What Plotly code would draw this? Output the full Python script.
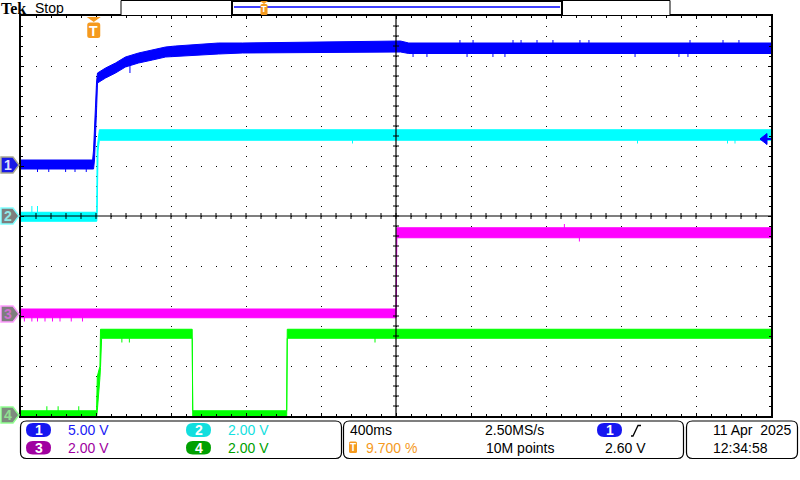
import plotly.graph_objects as go
import numpy as np

# ---------------- scope settings ----------------
TIME_PER_DIV_MS = 400
N_HDIV = 10
N_VDIV = 8
TRIG_POS_PCT = 9.7
TRIG_LEVEL_V = 2.60
CH_SCALE_V = [5.0, 2.0, 2.0, 2.0]          # volts / division
CH_OFFSET_DIV = [1.02, 0.0, -1.96, -3.98]   # ground marker position (div above centre)
CH_COLORS = ["#0000FF", "#00FFFF", "#FF00FF", "#00FF00"]

# ---------------- trace envelopes (time in ms, volts) ----------------
t1 = [-388, -6, -1, 4, 9, 15, 20, 63, 116, 169, 239, 313, 383, 436, 559, 665, 793, 1636, 1680, 3612]
hi1 = [0.5, 0.5, 1.5, 3.8, 6.0, 8.3, 9.2, 9.7, 10.2, 10.8, 11.2, 11.5, 11.8, 11.9, 12.1, 12.2, 12.2, 12.4, 12.2, 12.2]
lo1 = [-0.4, -0.4, -0.4, 0.5, 2.5, 5.5, 8.2, 8.7, 9.2, 9.8, 10.2, 10.5, 10.8, 10.9, 11.0, 11.1, 11.2, 11.3, 11.15, 11.15]

t2 = [-388, 16, 18, 23, 30, 3612]
hi2 = [0.15, 0.15, 2.7, 3.0, 3.45, 3.45]
lo2 = [-0.21, -0.21, 0.0, 2.6, 3.03, 3.03]

t3 = [-388, 1613, 1616, 3612]
hi3 = [0.2, 0.2, 3.45, 3.45]
lo3 = [-0.15, -0.15, 3.05, 3.05]

t4 = [-388, 15, 19, 33, 36, 42, 525, 528, 1029, 1032, 3612]
hi4 = [0.17, 0.17, 1.55, 1.95, 3.43, 3.43, 3.43, 0.17, 0.17, 3.43, 3.43]
lo4 = [-0.1, -0.1, 0.17, 1.5, 1.9, 3.07, 3.07, -0.1, -0.1, 3.07, 3.07]

# noise spikes (time in ms, tip voltage)
sp1_t = [-300, -240, -150, -100, -40, 193, 1703, 1777, 1953, 1991, 2023, 2129, 2193, 2236, 2279,
         2364, 2449, 2593, 2641, 2887, 3121, 3169, 3180, 3356, 3441]
sp1_v = [-0.7, -0.7, -0.7, -0.7, -0.7, 9.2, 10.8, 10.8, 12.5, 10.8, 12.5, 10.8, 10.8, 12.5, 12.5,
         12.5, 12.5, 12.5, 12.5, 10.8, 10.8, 10.8, 12.5, 12.5, 12.5]
sp2_t = [-330, -300, 1380, 2900, 3380, 3420]
sp2_v = [0.4, 0.4, 2.9, 2.9, 2.9, 2.9]
sp3_t = [-370, -330, -300, -260, -220, -180, -120, -60, 2510, 2590]
sp3_v = [-0.3, -0.3, -0.3, -0.3, -0.3, -0.3, -0.3, -0.3, 3.6, 2.9]
sp4_t = [-250, -190, -80, 150, 190, 1500]
sp4_v = [0.35, 0.35, 0.35, 2.9, 2.9, 2.9]

CH_T = [t1, t2, t3, t4]
CH_HI = [hi1, hi2, hi3, hi4]
CH_LO = [lo1, lo2, lo3, lo4]
SP_T = [sp1_t, sp2_t, sp3_t, sp4_t]
SP_V = [sp1_v, sp2_v, sp3_v, sp4_v]

# ---------------- readout texts ----------------
CH_SCALE_TXT = ["5.00 V", "2.00 V", "2.00 V", "2.00 V"]
BADGE_COLORS = ["#1616F0", "#12DEDE", "#A000A0", "#00A000"]
TEXT_COLORS = ["#1A1AF5", "#14E0E0", "#A000A0", "#00A000"]
HORIZ_TXT = "400ms"
TRIG_POS_TXT = "9.700 %"
SAMPLE_RATE_TXT = "2.50MS/s"
REC_LEN_TXT = "10M points"
TRIG_LEVEL_TXT = "2.60 V"
DATE_TXT = "11 Apr\u00a0 2025"
TIME_TXT = "12:34:58"
ORANGE = "#F59A1E"

# ---------------- geometry ----------------
L, T, W, H = 21, 16, 750, 400
FW, FH = 800, 480


def px(x):
    return (x - L) / W


def py(y):
    return (T + H - y) / H


def path_px(points, close=True):
    s = "M " + " L ".join(f"{px(a):.5f},{py(b):.5f}" for a, b in points)
    return s + (" Z" if close else "")


def rrect(x0, y0, x1, y1, r):
    def P(a, b):
        return f"{px(a):.5f},{py(b):.5f}"
    return (f"M {P(x0 + r, y0)} L {P(x1 - r, y0)} Q {P(x1, y0)} {P(x1, y0 + r)} "
            f"L {P(x1, y1 - r)} Q {P(x1, y1)} {P(x1 - r, y1)} L {P(x0 + r, y1)} "
            f"Q {P(x0, y1)} {P(x0, y1 - r)} L {P(x0, y0 + r)} Q {P(x0, y0)} {P(x0 + r, y0)} Z")


t_start = -TRIG_POS_PCT / 100 * N_HDIV * TIME_PER_DIV_MS
t_end = t_start + N_HDIV * TIME_PER_DIV_MS


def ch_range(i):
    s, o = CH_SCALE_V[i], CH_OFFSET_DIV[i]
    return [(-N_VDIV / 2 - o) * s, (N_VDIV / 2 - o) * s]


fig = go.Figure()
ynames = ["y", "y2", "y3", "y4"]
for i in range(4):
    t, hi, lo = CH_T[i], CH_HI[i], CH_LO[i]
    fig.add_trace(go.Scatter(
        x=list(t) + list(t[::-1]), y=list(hi) + list(lo[::-1]),
        fill="toself", fillcolor=CH_COLORS[i], mode="lines",
        line=dict(color=CH_COLORS[i], width=1), yaxis=ynames[i],
        hoverinfo="skip", showlegend=False))
    # spikes: segment from band middle to the spike tip
    mid = (np.array(hi) + np.array(lo)) / 2
    xs, ys = [], []
    for st, sv in zip(SP_T[i], SP_V[i]):
        base = float(np.interp(st, t, mid))
        xs += [st, st, None]
        ys += [base, sv, None]
    fig.add_trace(go.Scatter(x=xs, y=ys, mode="lines", line=dict(color=CH_COLORS[i], width=1),
                             yaxis=ynames[i], hoverinfo="skip", showlegend=False))

r1 = ch_range(0)
fig.update_layout(
    width=FW, height=FH, margin=dict(l=L, r=FW - L - W, t=T, b=FH - T - H),
    paper_bgcolor="white", plot_bgcolor="white", showlegend=False,
    xaxis=dict(range=[t_start, t_end], tick0=t_start, dtick=TIME_PER_DIV_MS,
               showgrid=True, gridcolor="black", gridwidth=1, griddash="1px,9px",
               zeroline=False, showticklabels=False, ticks="inside", ticklen=3,
               tickcolor="black", showline=True, linecolor="black", linewidth=1.5,
               mirror="ticks",
               minor=dict(tick0=t_start, dtick=TIME_PER_DIV_MS / 5, ticks="inside",
                          ticklen=2, tickcolor="black", showgrid=False)),
    yaxis=dict(range=r1, tick0=r1[0], dtick=CH_SCALE_V[0],
               showgrid=True, gridcolor="black", gridwidth=1, griddash="1px,14px",
               zeroline=False, showticklabels=False, ticks="inside", ticklen=3,
               tickcolor="black", showline=True, linecolor="black", linewidth=1.5,
               mirror="ticks",
               minor=dict(tick0=r1[0], dtick=CH_SCALE_V[0] / 5, ticks="inside",
                          ticklen=2, tickcolor="black", showgrid=False)),
)
for i in range(1, 4):
    fig.update_layout(**{f"yaxis{i+1}": dict(range=ch_range(i), overlaying="y",
                                               visible=False, showgrid=False,
                                               zeroline=False)})

shapes = []
annotations = []

# centre crosshair
shapes.append(dict(type="line", xref="paper", yref="paper", x0=0.5, x1=0.5, y0=0, y1=1,
                   line=dict(color="black", width=1.2), layer="above"))
shapes.append(dict(type="line", xref="paper", yref="paper", x0=0, x1=1, y0=0.5, y1=0.5,
                   line=dict(color="black", width=1.2), layer="above"))
tk = ""
cx, cy = L + W / 2, T + H / 2
for k in range(1, N_HDIV * 5):
    x = L + k * W / (N_HDIV * 5)
    tk += f"M {px(x):.5f},{py(cy - 3):.5f} L {px(x):.5f},{py(cy + 3):.5f} "
for k in range(1, N_VDIV * 5):
    y = T + k * H / (N_VDIV * 5)
    tk += f"M {px(cx - 3):.5f},{py(y):.5f} L {px(cx + 3):.5f},{py(y):.5f} "
shapes.append(dict(type="path", xref="paper", yref="paper", path=tk,
                   line=dict(color="black", width=1), layer="above"))

# trigger level arrow on ch1 (right edge)
tl_y = TRIG_LEVEL_V
dv = CH_SCALE_V[0] / 50 * 5.5
shapes.append(dict(type="path", xref="paper", yref="y",
                   path=f"M {px(760):.5f},{tl_y} L {px(767):.5f},{tl_y + dv} L {px(767):.5f},{tl_y - dv} Z",
                   fillcolor="#0000FF", line=dict(color="#0000FF", width=1), layer="above"))
shapes.append(dict(type="line", xref="paper", yref="y", x0=px(765), x1=px(771), y0=tl_y, y1=tl_y,
                   line=dict(color="#0000FF", width=2), layer="above"))

# trigger position marker (top)
trig_x = L + (0 - t_start) / (t_end - t_start) * W
shapes.append(dict(type="path", xref="paper", yref="paper",
                   path=path_px([(trig_x - 7, 17), (trig_x + 7, 17), (trig_x, 22)]),
                   fillcolor=ORANGE, line=dict(width=0), layer="above"))
shapes.append(dict(type="path", xref="paper", yref="paper",
                   path=rrect(trig_x - 6.5, 22.5, trig_x + 6.5, 38, 2.5),
                   fillcolor=ORANGE, line=dict(width=0), layer="above"))
annotations.append(dict(x=px(trig_x), y=py(30.5), xref="paper", yref="paper", text="<b>T</b>",
                        showarrow=False, font=dict(family="Liberation Sans", size=14, color="white"),
                        xanchor="center", yanchor="middle", borderpad=0))

# channel ground markers on left
mk_fill = ["#1818E6", "#7E7E7E", "#7E7E7E", "#7E8A7E"]
mk_line = ["#A8A890", "#80FFFF", "#FF9CFF", "#90FF90"]
mk_text = ["#E0E0FF", "#90E8E8", "#D070D0", "#90E090"]
for i in range(4):
    gy = T + H / 2 - CH_OFFSET_DIV[i] * H / N_VDIV
    shapes.append(dict(type="path", xref="paper", yref="paper",
                       path=path_px([(1, gy - 8), (13, gy - 8), (19, gy), (13, gy + 8), (1, gy + 8)]),
                       fillcolor=mk_fill[i], line=dict(color=mk_line[i], width=1.5), layer="above"))
    annotations.append(dict(x=px(8), y=py(gy), xref="paper", yref="paper", text=f"<b>{i+1}</b>",
                            showarrow=False, font=dict(family="Liberation Sans", size=14, color=mk_text[i]),
                            xanchor="center", yanchor="middle", borderpad=0))

# header
annotations.append(dict(x=px(0), y=py(8.5), xref="paper", yref="paper", text="<b>Tek</b>",
                        showarrow=False, font=dict(family="Liberation Serif", size=16, color="black"),
                        xanchor="left", yanchor="middle", borderpad=0))
annotations.append(dict(x=px(34), y=py(8.5), xref="paper", yref="paper", text="Stop",
                        showarrow=False, font=dict(family="Liberation Sans", size=14, color="black"),
                        xanchor="left", yanchor="middle", borderpad=0))
shapes.append(dict(type="rect", xref="paper", yref="paper", x0=px(121), x1=px(670), y0=py(0.5), y1=py(15.5),
                   line=dict(color="black", width=1), fillcolor="white"))
shapes.append(dict(type="rect", xref="paper", yref="paper", x0=px(232), x1=px(562), y0=py(1), y1=py(15),
                   line=dict(color="black", width=2), fillcolor="white"))
shapes.append(dict(type="line", xref="paper", yref="paper", x0=px(234), x1=px(560), y0=py(7), y1=py(7),
                   line=dict(color="#0000FF", width=1.5)))
bar_trig_x = 232 + TRIG_POS_PCT / 100 * (562 - 232)
shapes.append(dict(type="path", xref="paper", yref="paper",
                   path=path_px([(bar_trig_x - 4, 1), (bar_trig_x + 4, 1), (bar_trig_x, 4)]),
                   fillcolor=ORANGE, line=dict(width=0)))
shapes.append(dict(type="path", xref="paper", yref="paper",
                   path=rrect(bar_trig_x - 3.5, 4, bar_trig_x + 3.5, 15, 1.5),
                   fillcolor=ORANGE, line=dict(width=0)))
annotations.append(dict(x=px(bar_trig_x), y=py(9.5), xref="paper", yref="paper", text="<b>T</b>",
                        showarrow=False, font=dict(family="Liberation Sans", size=9, color="white"),
                        xanchor="center", yanchor="middle", borderpad=0))

# bottom panels
for (x0, x1) in [(20.5, 341.5), (343.5, 683.5), (686.5, 797.5)]:
    shapes.append(dict(type="path", xref="paper", yref="paper", path=rrect(x0, 421, x1, 458.5, 6),
                       line=dict(color="black", width=1.2), fillcolor="white"))

ROW = [430.5, 448]
BADGE_Y = [(423, 437), (441, 454.5)]


def badge(x0, row, color, txt):
    y0, y1 = BADGE_Y[row]
    shapes.append(dict(type="path", xref="paper", yref="paper",
                       path=rrect(x0, y0, x0 + 25, y1, (y1 - y0) / 2),
                       fillcolor=color, line=dict(width=0)))
    annotations.append(dict(x=px(x0 + 12.5), y=py((y0 + y1) / 2), xref="paper", yref="paper",
                            text=f"<b>{txt}</b>", showarrow=False,
                            font=dict(family="Liberation Sans", size=14, color="white"),
                            xanchor="center", yanchor="middle", borderpad=0))


def label(x, row, txt, color="black"):
    annotations.append(dict(x=px(x), y=py(ROW[row]), xref="paper", yref="paper", text=txt,
                            showarrow=False, font=dict(family="Liberation Sans", size=14, color=color),
                            xanchor="left", yanchor="middle", borderpad=0))


badge_pos = [(26, 0), (186, 0), (26, 1), (186, 1)]
for i in range(4):
    bx, row = badge_pos[i]
    badge(bx, row, BADGE_COLORS[i], str(i + 1))
    label(bx + 41, row, CH_SCALE_TXT[i], TEXT_COLORS[i])

label(349, 0, HORIZ_TXT)
shapes.append(dict(type="path", xref="paper", yref="paper", path=rrect(349, 441.5, 357, 453, 1.5),
                   fillcolor=ORANGE, line=dict(width=0)))
annotations.append(dict(x=px(353), y=py(447.3), xref="paper", yref="paper", text="<b>T</b>",
                        showarrow=False, font=dict(family="Liberation Sans", size=10, color="white"),
                        xanchor="center", yanchor="middle", borderpad=0))
label(365, 1, TRIG_POS_TXT, ORANGE)
label(484, 0, SAMPLE_RATE_TXT)
label(485, 1, REC_LEN_TXT)
badge(597, 0, BADGE_COLORS[0], "1")
shapes.append(dict(type="path", xref="paper", yref="paper",
                   path=path_px([(631, 436), (633, 436), (638, 425.5), (641, 425.5)], close=False),
                   line=dict(color="black", width=1.3)))
label(604, 1, TRIG_LEVEL_TXT)
label(712, 0, DATE_TXT)
label(712, 1, TIME_TXT)

fig.update_layout(shapes=shapes, annotations=annotations)
fig.write_html("out.html", config={"displayModeBar": False},
               post_script="document.body.style.margin='0px';document.body.style.overflow='hidden';")
